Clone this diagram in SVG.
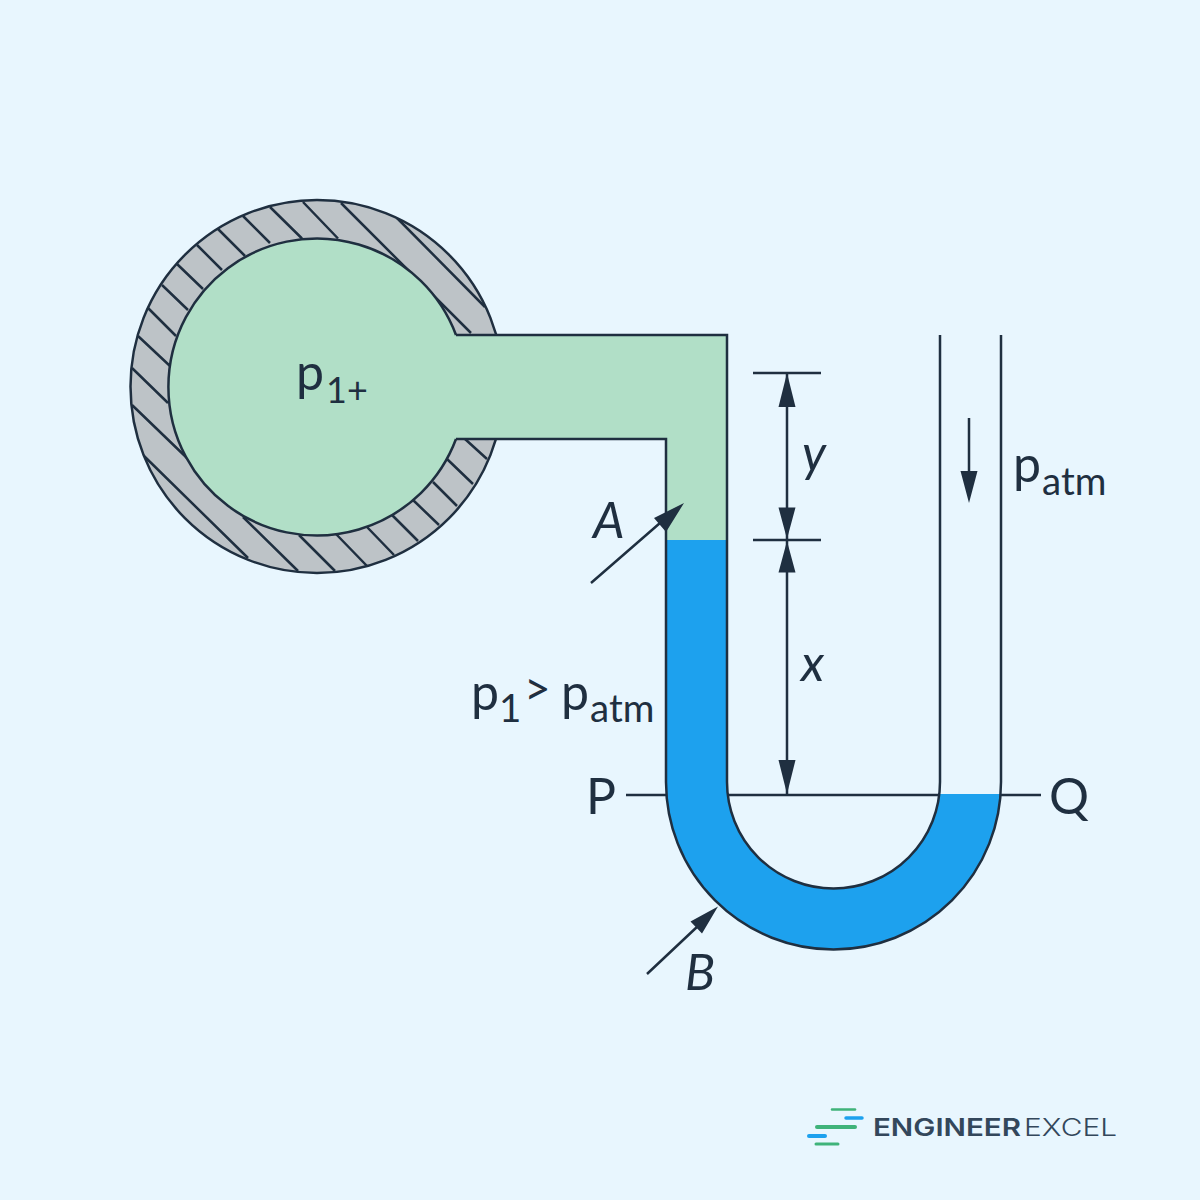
<svg xmlns="http://www.w3.org/2000/svg" width="1200" height="1200" viewBox="0 0 1200 1200">
<style>
.l{fill:none;stroke:#1f2f40;stroke-width:2.500}
.h{fill:#1f2f40;stroke:none}
text{font-family:Lato,"Open Sans",sans-serif;fill:#1f2f40}
.m{font-size:50px}
.s{font-size:38.500px}
.i{font-style:italic;font-size:50px}
.g{font-family:Inter,Lato,sans-serif;font-size:24px;fill:#33475b}
</style>
<defs>
<clipPath id="ring"><path clip-rule="evenodd" d="M130.500 386.500a186.500 186.500 0 1 0 373 0a186.500 186.500 0 1 0-373 0zM168.500 386.500a148.500 148.500 0 1 0 297 0a148.500 148.500 0 1 0-297 0z"/></clipPath>
</defs>
<rect width="1200" height="1200" fill="#e8f6fe"/>
<g id="vessel">
<circle cx="317" cy="386.500" r="186.500" fill="#bdc3c7"/>
<g clip-path="url(#ring)" class="l">
<path d="M303 202L338 238.500M341 203L471 333M397 218L485 307M270 207L302 238.500M243 216L270 243M218 229L245 256M197 245L222 270M177 264L203 289M162 285L188 310M148 308L176 336M138 336L170 366M132 368L168 403M132 405L187 458M143 455L248 558M243 517L298 571M299 535L335 571M336 534L367 566M367 527L394 555M392 515L418 541M413 500L439 525M433 482L457 506M447 459L473 484M465 439L487 459"/>
</g>
<circle cx="317" cy="386.500" r="186.500" class="l"/>
</g>
<g id="tube">
<path d="M666 540V439H456A148.500 148.500 0 1 1 456 335H727V540Z" fill="#b1dfc7"/>
<path d="M666 540H727V782A106.500 106.500 0 0 0 940 782V794H1001V782A167.500 167.500 0 0 1 666 782Z" fill="#1da1ee"/>
<path class="l" d="M456 335H727V782A106.500 106.500 0 0 0 940 782V335M1001 335V782A167.500 167.500 0 0 1 666 782V439H456"/>
<path class="l" d="M456 335A148.500 148.500 0 1 0 456 439"/>
</g>
<g id="connectors">
<path class="l" d="M626 795H666M727 795H940M1001 795H1041M753 373H821M753 540H821M787 373V795M969 418V480M591 583L660 523M647 974L698 926"/>
<path class="h" d="M787 373L795.500 407H778.500ZM787 539L778.500 507.500H795.500ZM787 541L795.500 572.500H778.500ZM787 794L778.500 760H795.500ZM969 503L960.500 471H977.500ZM684 503L666 532L654 518ZM718 906.500L702 933.500L690.500 921.500Z"/>
</g>
<g id="labels">
<text class="m" x="296" y="390">p</text><text class="s" style="font-size:36px" x="326" y="403">1+</text>
<text class="i" x="802" y="471">y</text>
<text class="i" x="801" y="681">x</text>
<text class="i" x="593" y="538">A</text>
<text class="i" x="685" y="990">B</text>
<text class="m" x="1013" y="482">p</text><text class="s" x="1042" y="495">atm</text>
<text class="m" x="471" y="710">p</text><text class="s" x="499" y="722">1</text><text class="s" x="524" y="705" style="font-size:46px">&gt;</text><text class="m" x="561" y="710">p</text><text class="s" x="590" y="722">atm</text>
<text class="m" x="586" y="814">P</text>
<text class="m" x="1049" y="814">Q</text>
</g>
<g id="logo">
<path stroke="#3fb37a" stroke-width="2.500" stroke-linecap="round" d="M832 1109.500H855"/>
<path stroke="#1da1ee" stroke-width="3.500" stroke-linecap="round" d="M846 1118H862"/>
<path stroke="#3fb37a" stroke-width="4" stroke-linecap="round" d="M817 1127H855"/>
<path stroke="#1da1ee" stroke-width="4" stroke-linecap="round" d="M809 1136H825"/>
<path stroke="#3fb37a" stroke-width="3" stroke-linecap="round" d="M816 1144H838"/>
<text class="g" x="873" y="1136" font-weight="600" textLength="148" lengthAdjust="spacingAndGlyphs">ENGINEER</text>
<text class="g" x="1024" y="1136" font-weight="300" textLength="93" lengthAdjust="spacingAndGlyphs">EXCEL</text>
</g>
</svg>
